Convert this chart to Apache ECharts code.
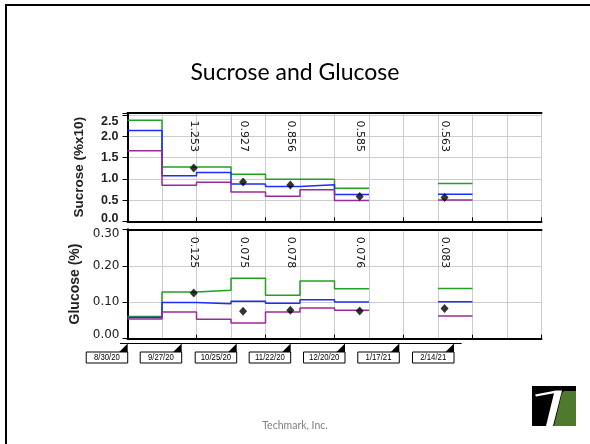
<!DOCTYPE html>
<html><head><meta charset="utf-8">
<script src="https://cdn.jsdelivr.net/npm/echarts@6/dist/echarts.min.js"></script>
<style>html,body{margin:0;padding:0;background:#fff}#c{width:590px;height:444px}</style>
</head><body><div id="c"></div>
<script>
// Each segment i spans x in [i, i+1] (x axis in grid units); null = no data
const sucroseGreen  = [2.38, 1.28, 1.28, 1.11, 0.99, 0.99, 0.78, null, null, 0.89];
const sucroseBlue   = [2.14, 1.07, 1.15, 0.88, 0.82, 0.86, 0.63, null, null, 0.635];
const sucrosePurple = [1.66, 0.85, 0.92, 0.69, 0.59, 0.74, 0.49, null, null, 0.50];
const glucoseGreen  = [0.061, 0.128, 0.133, 0.166, 0.119, 0.158, 0.137, null, null, 0.138];
const glucoseBlue   = [0.058, 0.099, 0.096, 0.1025, 0.097, 0.107, 0.1005, null, null, 0.101];
const glucosePurple = [0.054, 0.073, 0.053, 0.043, 0.073, 0.084, 0.078, null, null, 0.062];
// measured samples
const sampleX = [1.92, 3.35, 4.72, 6.73, 9.19];
const sucroseSample = [1.253, 0.927, 0.856, 0.585, 0.563];
const glucoseSample = [0.125, 0.075, 0.078, 0.076, 0.083];
// date flags below the chart
const dateLabels = ['8/30/20', '9/27/20', '10/25/20', '11/22/20', '12/20/20', '1/17/21', '2/14/21'];
const datePos = [0.006, 1.571, 3.165, 4.730, 6.304, 7.878, 9.464];
// axis ranges
const xMin = 0, xMax = 12;
const sucroseMax = 2.55, glucoseMax = 0.30;

const GREEN = '#22a022', BLUE = '#1f2cff', PURPLE = '#9a2a9a';

function runs(vals) {
  const out = []; let cur = null;
  vals.forEach((v, i) => {
    if (v == null) { if (cur) { out.push(cur); cur = null; } return; }
    if (!cur) cur = [];
    cur.push([i, v]);
    if (i === vals.length - 1 || vals[i + 1] == null) cur.push([i + 1, v]);
  });
  if (cur) out.push(cur);
  return out;
}
const series = [];
function addStep(vals, color, xi, yi) {
  runs(vals).forEach(r => series.push({
    type: 'line', step: 'end', data: r, xAxisIndex: xi, yAxisIndex: yi,
    symbol: 'none', lineStyle: { color: color, width: 1.5 }, silent: true, z: 3
  }));
}
addStep(sucroseGreen, GREEN, 0, 0);
addStep(sucroseBlue, BLUE, 0, 0);
addStep(sucrosePurple, PURPLE, 0, 0);
addStep(glucoseGreen, GREEN, 2, 1);
addStep(glucoseBlue, BLUE, 2, 1);
addStep(glucosePurple, PURPLE, 2, 1);

series.push({ type: 'scatter', xAxisIndex: 0, yAxisIndex: 0, symbol: 'diamond', symbolSize: [8, 9],
  itemStyle: { color: '#000' }, data: sampleX.map((x, i) => [x, sucroseSample[i]]), z: 4 });
series.push({ type: 'scatter', xAxisIndex: 2, yAxisIndex: 1, symbol: 'diamond', symbolSize: [8, 9],
  itemStyle: { color: '#000' }, data: sampleX.map((x, i) => [x, glucoseSample[i]]), z: 4 });

function valueLabels(vals, xi, yi, ymax) {
  return {
    type: 'custom', xAxisIndex: xi, yAxisIndex: yi, z: 5, silent: true,
    data: sampleX.map((x, i) => [x, vals[i]]),
    renderItem: function (params, api) {
      const p = api.coord([api.value(0), ymax]);
      return { type: 'text', x: p[0] + 0.5, y: p[1] + 7.5, rotation: -Math.PI / 2,
        style: { text: api.value(1).toFixed(3), x: 0, y: 0, align: 'left', verticalAlign: 'middle',
          font: '11px "DejaVu Sans"', fill: '#111' } };
    }
  };
}
series.push(valueLabels(sucroseSample, 0, 0, sucroseMax));
series.push(valueLabels(glucoseSample, 2, 1, glucoseMax));

series.push({
  type: 'custom', xAxisIndex: 4, yAxisIndex: 2, silent: true, z: 5,
  data: datePos.map((x, i) => [x, 0, i]),
  renderItem: function (params, api) {
    const cs = params.coordSys;
    const x = api.coord([api.value(0), 0])[0];
    const idx = api.value(2);
    const y = cs.y;
    const children = [];
    const lastX = api.coord([datePos[datePos.length - 1], 0])[0];
    if (idx === 0) {
      children.push({ type: 'line', shape: { x1: x - 7.7, y1: y, x2: lastX + 7.7, y2: y },
        style: { stroke: '#000', lineWidth: 1 } });
    }
    children.push({ type: 'polygon', shape: { points: [[x, y], [x, y + 8.5], [x - 8.5, y + 8.5]] },
      style: { fill: '#000' } });
    children.push({ type: 'rect', shape: { x: x - 41.5, y: y + 8.5, width: 41.5, height: 11 },
      style: { fill: '#fff', stroke: '#000', lineWidth: 1 } });
    children.push({ type: 'text', x: x - 20.75, y: y + 14.3, scaleX: 0.82,
      style: { text: dateLabels[idx], x: 0, y: 0, align: 'center', verticalAlign: 'middle',
        font: '9.5px "Liberation Sans", Arial', fill: '#000' } });
    return { type: 'group', children: children };
  }
});

const gridLine = { show: true, lineStyle: { color: '#cdcdcd', width: 1 } };
function xAxisBase(gi) {
  return {
    type: 'value', gridIndex: gi, min: xMin, max: xMax, interval: 2,
    axisLine: { show: true, onZero: false, lineStyle: { color: '#000', width: 2 } },
    axisTick: { show: true, inside: true, length: 4, lineStyle: { color: '#000', width: 1 } },
    axisLabel: { show: false },
    splitLine: gridLine,
    minorTick: { show: false, splitNumber: 2 },
    minorSplitLine: gridLine
  };
}
function topBorder(gi) {
  return { type: 'value', gridIndex: gi, position: 'top', min: xMin, max: xMax,
    axisLine: { show: true, onZero: false, lineStyle: { color: '#000', width: 2 } },
    axisTick: { show: false }, axisLabel: { show: false }, splitLine: { show: false } };
}

const topLabFont = { fontSize: 12.5, fontWeight: 'bold', fontFamily: '"Liberation Sans", Arial', color: '#222' };
const botLabFont = { fontSize: 12, fontWeight: 'normal', fontFamily: '"DejaVu Sans"', color: '#222' };

const option = {
  animation: false,
  backgroundColor: '#fff',
  title: [
    { text: 'Sucrose and Glucose', left: 'center', top: 56,
      textStyle: { fontFamily: 'Lato', fontWeight: 'normal', fontSize: 23, color: '#000' } },
    { text: 'Techmark, Inc.', left: 'center', top: 415,
      textStyle: { fontFamily: 'Lato', fontWeight: 'normal', fontSize: 10.5, color: '#808080' } }
  ],
  grid: [
    { left: 127.5, width: 414, top: 113, height: 108.3 },
    { left: 127.5, width: 414, top: 229.3, height: 109.4 },
    { left: 127.5, width: 414, top: 343.5, height: 20 }
  ],
  xAxis: [
    xAxisBase(0), topBorder(0), xAxisBase(1), topBorder(1),
    { type: 'value', gridIndex: 2, min: xMin, max: xMax, show: false }
  ],
  yAxis: [
    { type: 'value', gridIndex: 0, min: 0, max: sucroseMax, interval: 0.5,
      name: 'Sucrose (%x10)', nameLocation: 'middle', nameGap: 41, nameRotate: 90,
      nameTextStyle: { fontSize: 13.5, fontWeight: 'bold', fontFamily: '"Liberation Sans", Arial', color: '#222' },
      axisLine: { show: true, onZero: false, lineStyle: { color: '#000', width: 2 } },
      axisTick: { show: true, length: 5, lineStyle: { color: '#000' } },
      axisLabel: Object.assign({ margin: 9,
        formatter: function (v) {
          if (v > 2.5 + 1e-9) return '';
          if (Math.abs(v - 2.5) < 1e-9) return '{dn|2.5}';
          if (v === 0) return '{up|0.0}';
          return v.toFixed(1);
        },
        rich: { dn: Object.assign({ padding: [12, 0, 0, 0] }, topLabFont), up: Object.assign({ padding: [0, 0, 6, 0] }, topLabFont) }
      }, topLabFont),
      splitLine: gridLine },
    { type: 'value', gridIndex: 1, min: 0, max: glucoseMax, interval: 0.1,
      name: 'Glucose (%)', nameLocation: 'middle', nameGap: 41, nameRotate: 90,
      nameTextStyle: { fontSize: 14, fontWeight: 'bold', fontFamily: '"Liberation Sans", Arial', color: '#222' },
      axisLine: { show: true, onZero: false, lineStyle: { color: '#000', width: 2 } },
      axisTick: { show: true, length: 5, lineStyle: { color: '#000' } },
      axisLabel: Object.assign({ margin: 8,
        formatter: function (v) {
          if (Math.abs(v - 0.3) < 1e-9) return '{dn|0.30}';
          if (v === 0) return '{up|0.00}';
          return v.toFixed(2);
        },
        rich: { dn: Object.assign({ padding: [9, 0, 0, 0] }, botLabFont), up: Object.assign({ padding: [0, 0, 7, 0] }, botLabFont) }
      }, botLabFont),
      splitLine: gridLine },
    { type: 'value', gridIndex: 2, min: 0, max: 1, show: false }
  ],
  graphic: [
    { type: 'line', shape: { x1: 6, y1: 5, x2: 590, y2: 5 }, style: { stroke: '#000', lineWidth: 2 } },
    { type: 'line', shape: { x1: 6, y1: 4, x2: 6, y2: 444 }, style: { stroke: '#000', lineWidth: 2 } },
    { type: 'rect', shape: { x: 532, y: 386, width: 44, height: 40 }, style: { fill: '#000' } },
    { type: 'polygon', shape: { points: [[564, 391], [576, 391], [576, 426], [554, 426], [562, 393]] }, style: { fill: '#4f7a2e' } },
    { type: 'polygon', shape: { points: [[535, 394.5], [556, 390.5], [562, 390.5], [553, 426], [546, 426], [554, 393.2], [536, 396.5]] }, style: { fill: '#fff' } }
  ],
  series: series
};
const chart = echarts.init(document.getElementById('c'), null, { renderer: 'canvas' });
chart.setOption(option);
</script></body></html>
